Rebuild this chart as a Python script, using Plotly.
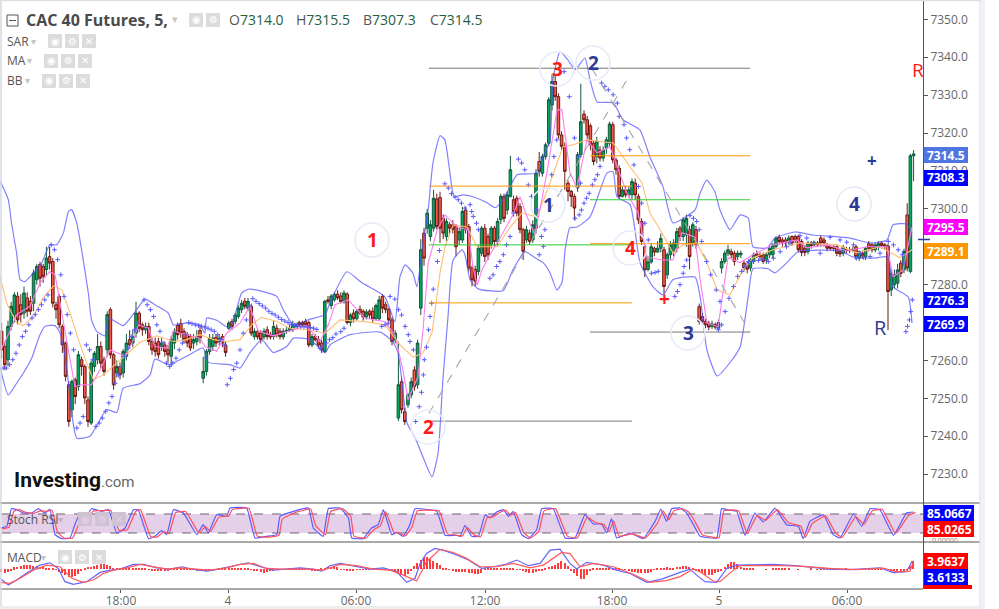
import plotly.graph_objects as go
from plotly.subplots import make_subplots

# candles, 10 per line
opens = [7267.7,7263.7,7260.2,7269.0,7272.1,7276.9,7274.7,7272.5,7276.5,7275.6,
 7275.1,7281.3,7285.3,7284.8,7284.0,7287.4,7286.1,7274.7,7276.9,7269.0,
 7264.6,7253.6,7247.0,7254.9,7253.1,7260.2,7258.4,7249.6,7243.5,7258.4,
 7260.2,7263.7,7260.2,7262.8,7273.4,7261.5,7256.7,7258.4,7256.7,7261.1,
 7265.5,7264.6,7267.2,7272.5,7269.4,7268.1,7269.0,7265.0,7264.6,7265.0,
 7263.7,7264.1,7262.8,7261.1,7264.6,7269.2,7269.7,7267.7,7266.8,7266.3,
 7264.6,7265.0,7267.9,7255.3,7257.1,7262.4,7263.7,7266.1,7265.0,7266.3,
 7264.1,7268.5,7270.3,7270.3,7271.6,7273.4,7275.6,7273.8,7274.3,7266.3,
 7267.7,7267.2,7266.2,7268.1,7266.8,7266.3,7268.5,7267.7,7266.2,7267.7,
 7267.9,7268.1,7269.0,7270.0,7270.0,7270.3,7270.0,7264.1,7266.3,7265.5,
 7264.6,7262.4,7276.0,7274.5,7276.0,7277.5,7277.0,7275.5,7277.5,7270.0,
 7272.5,7271.0,7273.5,7273.0,7271.5,7273.0,7273.0,7271.0,7271.0,7276.9,
 7274.7,7273.4,7270.7,7265.4,7244.8,7254.4,7246.5,7248.3,7250.9,7257.5,
 7253.6,7273.8,7293.6,7294.9,7292.7,7294.9,7302.6,7303.0,7297.5,7292.7,
 7295.8,7295.8,7295.3,7291.8,7291.8,7299.7,7295.3,7284.4,7284.0,7283.5,
 7288.3,7294.9,7292.7,7290.5,7294.9,7291.4,7297.1,7303.3,7299.7,7303.3,
 7302.4,7302.8,7300.6,7294.5,7291.8,7293.6,7291.8,7294.9,7312.5,7309.4,
 7313.8,7317.3,7327.4,7333.6,7329.6,7319.5,7316.5,7306.8,7304.6,7303.3,
 7305.5,7314.3,7325.0,7323.5,7321.9,7317.3,7313.8,7315.5,7313.4,7316.0,
 7317.3,7322.2,7312.9,7310.7,7303.3,7305.0,7303.7,7303.7,7306.8,7303.3,
 7296.7,7290.0,7284.0,7286.0,7289.6,7288.6,7289.6,7289.2,7282.6,7287.9,
 7288.8,7289.6,7294.9,7292.7,7293.1,7294.5,7291.0,7294.5,7274.2,7271.6,
 7270.3,7269.8,7269.0,7269.4,7268.5,7284.4,7286.1,7288.3,7288.7,7288.3,
 7287.4,7287.9,7285.7,7285.2,7284.4,7286.1,7288.1,7287.9,7287.9,7286.5,
 7287.9,7287.9,7290.1,7292.5,7291.8,7291.8,7291.4,7292.7,7292.7,7292.7,
 7291.4,7289.6,7288.7,7291.0,7290.5,7291.0,7292.3,7291.8,7290.5,7290.0,
 7290.0,7290.0,7288.7,7288.3,7289.2,7289.2,7289.0,7290.0,7287.0,7288.3,
 7287.4,7290.8,7290.5,7289.2,7289.9,7291.0,7290.5,7290.2,7278.6,7280.0,
 7280.4,7285.7,7283.9,7298.4,7283.5,7314.0]
closes = [7262.8,7258.9,7269.0,7274.3,7277.3,7270.7,7272.1,7277.8,7273.0,7273.0,
 7283.1,7284.8,7281.7,7282.2,7287.0,7285.7,7275.1,7273.4,7269.4,7264.1,
 7255.8,7243.9,7254.5,7250.5,7261.5,7258.4,7250.1,7243.9,7259.3,7261.9,
 7263.7,7259.3,7257.1,7272.1,7261.5,7253.6,7258.4,7256.2,7262.4,7264.6,
 7264.1,7266.3,7272.5,7268.5,7268.1,7269.0,7265.0,7262.8,7262.4,7261.5,
 7264.6,7262.4,7261.5,7265.5,7267.7,7266.8,7267.2,7265.5,7264.6,7263.3,
 7265.5,7266.3,7265.9,7257.1,7262.4,7265.9,7265.9,7264.6,7265.9,7264.6,
 7262.1,7269.9,7269.0,7272.0,7273.8,7275.1,7274.3,7275.6,7267.2,7267.7,
 7266.2,7265.5,7267.7,7266.3,7266.2,7269.0,7266.8,7266.3,7267.7,7267.9,
 7268.5,7269.4,7269.4,7269.4,7269.4,7269.4,7264.1,7266.3,7265.5,7264.1,
 7262.8,7275.6,7275.6,7277.0,7277.5,7276.5,7275.5,7277.8,7270.0,7272.0,
 7271.0,7273.0,7272.5,7271.5,7272.8,7272.0,7271.0,7274.5,7276.0,7273.8,
 7273.4,7270.7,7265.0,7267.2,7253.6,7247.0,7243.9,7250.9,7254.4,7253.1,
 7264.6,7289.2,7287.0,7298.9,7295.8,7302.8,7295.3,7294.9,7293.6,7296.7,
 7294.9,7294.6,7290.0,7294.0,7299.3,7294.5,7284.4,7281.3,7280.9,7289.6,
 7294.9,7287.4,7287.9,7294.9,7291.4,7296.7,7303.3,7297.5,7303.7,7310.3,
 7299.3,7298.9,7294.5,7288.8,7294.5,7291.4,7295.8,7309.4,7309.9,7313.8,
 7316.9,7328.8,7333.6,7329.6,7319.5,7316.5,7309.9,7304.6,7303.3,7300.2,
 7314.3,7323.0,7323.5,7319.5,7316.9,7312.5,7317.8,7313.4,7315.5,7318.2,
 7322.4,7312.9,7310.3,7303.3,7305.0,7303.7,7305.0,7307.2,7303.7,7297.1,
 7291.4,7283.9,7286.0,7290.0,7288.6,7289.6,7292.2,7279.5,7287.9,7290.5,
 7291.0,7294.0,7292.7,7297.1,7297.5,7287.4,7295.8,7290.5,7270.3,7270.3,
 7269.4,7268.8,7269.6,7268.8,7270.0,7286.1,7288.3,7289.2,7287.9,7286.1,
 7288.3,7288.3,7284.4,7284.1,7286.5,7287.9,7287.6,7287.4,7286.1,7287.9,
 7289.6,7290.5,7292.3,7291.4,7291.0,7291.0,7292.3,7291.0,7291.8,7289.2,
 7288.5,7288.5,7291.0,7290.3,7291.1,7290.5,7291.0,7291.0,7289.6,7289.6,
 7289.6,7288.3,7288.1,7289.9,7289.0,7289.0,7289.3,7287.4,7288.7,7287.6,
 7289.6,7289.6,7289.2,7290.5,7290.8,7290.3,7290.1,7278.2,7283.0,7282.6,
 7283.9,7283.0,7288.8,7284.4,7314.0,7314.5]
highs = [7270.0,7265.0,7270.5,7275.5,7278.0,7278.0,7277.5,7279.5,7278.0,7277.0,
 7284.0,7285.5,7286.0,7285.5,7290.0,7290.0,7287.0,7275.5,7277.5,7269.5,
 7265.0,7254.5,7255.0,7255.5,7262.5,7261.0,7259.0,7250.5,7260.0,7262.5,
 7267.0,7265.0,7261.0,7273.0,7274.0,7262.0,7260.0,7259.5,7263.0,7267.0,
 7268.0,7268.0,7275.5,7273.0,7270.0,7270.0,7270.0,7266.0,7266.0,7266.0,
 7266.0,7265.0,7264.0,7266.5,7268.5,7270.0,7271.0,7268.5,7267.5,7267.0,
 7267.0,7268.0,7269.0,7261.0,7263.0,7267.0,7267.0,7267.0,7267.0,7267.0,
 7265.0,7270.5,7271.0,7272.5,7274.5,7276.0,7276.5,7276.5,7275.0,7268.5,
 7268.5,7268.0,7268.5,7269.0,7267.5,7270.5,7269.5,7268.5,7268.5,7268.8,
 7269.5,7270.5,7270.0,7270.5,7270.5,7271.0,7270.5,7267.0,7267.0,7266.5,
 7265.5,7276.0,7277.0,7277.5,7278.0,7278.5,7278.0,7278.5,7278.0,7272.5,
 7273.5,7273.5,7274.5,7273.5,7273.5,7273.5,7274.0,7275.0,7277.0,7277.5,
 7275.5,7274.0,7271.5,7268.0,7265.0,7255.5,7247.5,7251.5,7255.5,7258.5,
 7265.5,7292.0,7295.0,7300.0,7297.0,7305.0,7304.0,7304.5,7298.5,7297.5,
 7296.5,7297.0,7296.0,7295.0,7300.5,7300.5,7296.0,7285.0,7285.0,7290.5,
 7295.5,7296.0,7293.5,7295.5,7295.5,7297.5,7304.0,7304.0,7304.5,7314.0,
 7303.5,7303.5,7301.5,7295.0,7295.5,7294.5,7297.0,7310.5,7315.0,7314.5,
 7317.5,7329.5,7335.5,7335.5,7330.5,7320.5,7317.5,7307.5,7305.0,7304.0,
 7315.0,7333.0,7326.0,7324.5,7322.5,7318.0,7319.0,7316.5,7316.5,7319.0,
 7323.0,7323.0,7313.5,7311.5,7306.0,7306.0,7306.0,7308.0,7308.0,7304.0,
 7297.5,7291.0,7287.5,7291.0,7290.0,7291.5,7293.5,7290.0,7288.5,7291.5,
 7292.0,7295.0,7295.5,7297.8,7298.5,7295.5,7296.5,7295.5,7275.0,7272.5,
 7271.0,7270.5,7270.5,7270.0,7270.8,7287.0,7289.0,7290.5,7289.5,7289.0,
 7289.0,7289.0,7286.5,7286.0,7287.0,7288.5,7289.0,7288.5,7288.5,7288.5,
 7290.0,7291.0,7292.8,7293.2,7292.5,7292.5,7293.0,7293.0,7293.2,7293.2,
 7292.0,7290.5,7291.5,7291.5,7291.5,7291.5,7293.0,7292.5,7291.0,7290.5,
 7290.5,7290.5,7289.5,7290.5,7290.0,7290.0,7290.0,7290.5,7289.0,7289.0,
 7290.0,7291.5,7291.0,7291.0,7291.5,7291.5,7291.0,7290.8,7284.0,7284.0,
 7285.5,7286.5,7289.5,7301.5,7314.5,7315.5]
lows = [7260.5,7257.5,7258.5,7268.0,7270.0,7269.5,7270.0,7271.0,7271.5,7272.0,
 7273.0,7280.0,7279.5,7280.5,7282.5,7284.0,7274.0,7271.0,7268.5,7262.0,
 7254.5,7242.5,7245.0,7248.5,7252.0,7256.0,7248.5,7242.5,7243.0,7257.0,
 7259.0,7258.0,7256.0,7261.0,7260.5,7252.3,7255.5,7255.0,7255.5,7260.0,
 7263.0,7263.5,7266.0,7267.5,7266.5,7267.0,7264.0,7261.5,7261.0,7260.5,
 7262.5,7261.0,7259.5,7258.5,7263.0,7265.5,7266.0,7264.5,7263.5,7262.5,
 7263.0,7264.0,7264.5,7254.0,7256.0,7261.5,7262.5,7263.5,7264.0,7263.5,
 7261.0,7268.0,7268.0,7269.5,7271.0,7272.5,7273.5,7273.0,7266.5,7265.5,
 7265.5,7264.5,7265.5,7265.5,7265.5,7265.5,7266.0,7265.5,7265.5,7267.0,
 7267.5,7267.5,7268.5,7268.8,7268.8,7268.8,7263.5,7263.5,7265.0,7263.5,
 7262.0,7262.0,7275.0,7273.5,7275.5,7276.0,7275.0,7275.0,7269.5,7269.0,
 7270.0,7270.5,7272.0,7270.5,7270.8,7271.0,7270.0,7270.5,7270.5,7272.5,
 7272.5,7270.0,7264.0,7264.5,7244.0,7246.0,7243.0,7247.5,7250.0,7252.0,
 7252.5,7272.0,7285.0,7293.5,7291.5,7294.0,7294.5,7291.0,7292.0,7291.5,
 7293.5,7293.5,7287.5,7290.5,7291.0,7293.5,7283.5,7279.5,7279.5,7282.5,
 7287.5,7286.0,7286.5,7289.5,7290.0,7290.0,7296.0,7296.5,7298.5,7303.0,
 7298.0,7298.0,7293.5,7286.5,7291.0,7290.5,7291.0,7293.5,7308.5,7308.5,
 7313.0,7316.5,7326.0,7328.5,7318.5,7315.5,7305.0,7302.0,7300.5,7297.0,
 7304.5,7313.5,7322.5,7318.5,7315.5,7311.5,7312.0,7312.5,7312.5,7314.5,
 7316.5,7312.0,7309.0,7302.5,7303.0,7303.0,7303.0,7302.5,7302.5,7296.0,
 7290.5,7282.0,7283.5,7285.5,7287.5,7288.5,7288.5,7277.5,7281.5,7286.5,
 7287.5,7288.5,7291.5,7291.5,7290.0,7284.0,7290.0,7289.5,7269.5,7269.5,
 7268.5,7268.0,7268.3,7268.2,7267.8,7283.0,7285.5,7287.5,7287.0,7285.0,
 7286.5,7287.0,7283.5,7283.0,7283.5,7285.5,7287.0,7286.5,7285.5,7285.5,
 7287.0,7287.0,7289.5,7290.5,7290.0,7290.0,7290.5,7290.2,7291.0,7288.5,
 7287.5,7287.5,7288.0,7289.5,7290.0,7290.0,7290.0,7290.0,7288.8,7289.0,
 7288.8,7287.5,7287.3,7287.5,7288.3,7288.3,7288.5,7286.5,7286.3,7286.8,
 7286.5,7288.8,7288.5,7288.5,7289.0,7289.5,7289.3,7268.0,7277.0,7279.0,
 7279.0,7282.0,7283.0,7283.5,7283.0,7307.3]
assert len(opens) == len(closes) == len(highs) == len(lows)

# bollinger bands
bb_up_x = [0,2.6,3.6,5.2,6.3,7.8,9.9,13,15.6,17.7,19.8,21.4,22.4,24,25.5,27.6,28.6,30.2,32.8,33.9,38.5,42.7,45.3,49,52.6,54.2,58.3,62.5,64,64.6,67.7,71.9,75.5,77.6,80.7,86.5,88.5,91.7,96.9,101.6,
 103.1,108.4,113.1,120.3,123.4,125,126.6,129,130.3,131.9,133.8,135.3,137.5,139,140.6,141.9,144.7,147.8,152.2,154.7,157.2,160,161.6,168.1,169.7,171.9,172.8,175,177.5,179.7,182.8,184.4,186.6,191.6,194.7,200,203.1,207.2,210.3,217.2,218.8,220.9,223.4,225,228.1,231.3,233.8,235.3,239.7,242.2,248.4,254,265.6,271.9,277.2,279.1,283.4,285]
bb_up = [7307.4,7302.4,7296.2,7288.3,7281.3,7280.8,7282.6,7285.7,7290.5,7290.5,7293.6,7299.3,7299.8,7296.2,7289.2,7277.8,7270.7,7267.7,7266.5,7271.2,7269.2,7273.4,7276.2,7274.4,7272.5,7269.4,7269.9,7269.4,7267.2,7271.2,7270.6,7268.5,7277.8,7278.8,7278.5,7276.9,7273.4,7269.4,7270.9,7272.1,
 7275.2,7283.4,7280.5,7276.8,7270.2,7282.1,7285.2,7283.1,7279.4,7289.2,7299.7,7312.1,7319.3,7318.2,7309.5,7303.2,7303.7,7303.2,7301.6,7300.3,7302.4,7306.9,7309,7309.5,7313.7,7318.2,7334,7341.4,7339.3,7336.7,7339.8,7334,7328.2,7328,7323.5,7320.8,7313.7,7305.8,7296.3,7299.7,7304.2,7307.6,7304.5,7299.7,7294.5,7298.4,7297.6,7290,7289.7,7292.3,7293.9,7293.1,7292.3,7291,7291.8,7295.8,7296,7293.7]
bb_lo_x = [0,2.6,5.2,7.3,9.9,12.5,14.1,17.2,18.8,20.8,22.4,24,28.1,33.3,36.5,38.5,43.8,46.9,48.4,52.6,58.3,63.5,65.1,71.9,75,78.1,81.8,85.4,89.6,91.7,96.9,101.6,
 103.1,109.4,118.8,122.8,124.4,125.9,127.2,129.7,131.3,135,136.9,138.4,140,141.6,144.4,145.3,146.9,149.4,157.2,160.3,164,167.2,169.7,171.9,174,175.6,176.6,178.1,180.3,184.4,189.7,191.6,192.8,196.9,200,204.1,207.2,210.3,217.2,218.8,220.9,224.1,228.1,231.3,233.8,235.3,240,242.2,245.9,249.4,262.5,266.6,272.8,277.5,279.1,283.8,285]
bb_lo = [7258.4,7250.9,7254,7256.7,7260.6,7266.8,7269,7269.2,7267.2,7258.4,7246.1,7239.5,7240,7247,7246.3,7252.7,7253.9,7256.2,7260.4,7258.9,7261.1,7263.3,7259.5,7258.9,7258,7262,7265.5,7262.1,7263.7,7265.9,7265.5,7262,
 7264.1,7266.8,7267.5,7264.9,7262,7252.2,7243.5,7239.6,7236.4,7229.3,7235.6,7254.9,7271.5,7286.5,7289.2,7287.9,7281.3,7278.9,7278.4,7283.9,7288.7,7287.1,7285.8,7283.1,7278.6,7280.5,7289.2,7295,7295.2,7297.9,7309.5,7309.8,7303.2,7301.1,7285.8,7279.4,7277.3,7281.3,7282,7276.8,7262.8,7255.9,7259.4,7263.6,7276.8,7284.2,7284.2,7283.1,7285.8,7288.7,7288.9,7287.3,7287,7287.3,7279.4,7276.8,7269.9]

# moving averages
ma_slow_x = [0,2.1,5.2,7.3,10.4,13.5,16.7,19.3,21.9,24.5,27.1,29.2,32.3,36.5,40.1,43.8,49,54.2,58.3,62.5,66.7,70.8,75,79.2,81.8,86.5,90.6,95.8,101.6,
 106.3,114.1,120.3,125,129.1,132.2,135,137.5,139.1,141.6,145.9,149.1,155.3,159.4,163.1,167.8,171.9,175.9,179.1,183.4,191.6,196.9,200.6,203.1,206.3,210.3,213.4,217.8,220.9,224.1,228.1,232.2,235.3,241.6,250,261.6,267.8,275,281.3,285]
ma_slow = [7282.2,7275.1,7269.9,7269.2,7271.6,7276.5,7279.7,7278.7,7272.5,7265.5,7259.3,7254.9,7256.2,7259.3,7262,7264.8,7266.5,7265,7265.5,7266.8,7265.5,7265,7265.5,7269.9,7271.4,7270.3,7268.5,7268.1,7267.2,
 7270.7,7270.2,7269.4,7264.1,7260.9,7262,7267.3,7283.1,7290,7295.8,7295.2,7290,7290,7295.2,7298.9,7297.9,7306.9,7316.4,7316.9,7318.2,7317.4,7311.1,7306.9,7298.9,7294.5,7288.4,7290.5,7291,7285.8,7278.6,7277.3,7283.9,7287.1,7289.2,7291,7290.5,7288.4,7290,7287.1,7289.2]
ma_fast_x = [0.3,3.1,5.2,9.4,12.5,15.6,17.2,19.3,21.4,23.4,25.5,28.6,31.3,34.4,37,39,41.7,43.2,46.4,48.4,52.1,54.2,58.3,62.5,64.1,67.7,70.8,75,78.1,80.7,85.4,90.6,95.8,100,102.6,
 104.7,108.8,114,120.3,123.4,125.9,127.5,130.6,132.2,133.8,136.6,139.1,142.8,146.3,147.8,149.1,150.6,153.1,157.2,160.3,162.5,164.7,167.2,170.9,174.1,175.6,178.1,180.3,183.4,186.6,190.6,192.8,195.9,199.4,202.2,203.1,207.2,210.3,213.1,217.2,218.8,220.9,224.4,227.5,231.3,235.3,241.6,249,252.2,258.4,264.7,270.9,277.2,279.1,282.2,285]
ma_fast = [7262.8,7267.7,7272.1,7274.3,7280.4,7283.5,7282.6,7272.5,7261.9,7253.1,7253.6,7253.6,7257.6,7262.8,7261.9,7261.1,7265.5,7269.4,7268.5,7263.7,7263.3,7267.7,7266.8,7265.9,7263.7,7262.4,7267.2,7269.9,7274.3,7267.7,7266.5,7267.9,7269.2,7265,7269.4,
 7274.7,7276,7271.2,7270.2,7266.7,7257.5,7249.6,7255.7,7268.1,7285.7,7294.4,7298.4,7295.2,7294.5,7284.7,7279.9,7283.9,7287.9,7293.7,7298.4,7303.2,7297.9,7293.1,7309.5,7326.1,7326.1,7309.5,7305.5,7318.2,7314.8,7316.4,7311.1,7304.2,7298.9,7287.3,7287.1,7286.5,7286.5,7293.7,7292.6,7281.3,7269.9,7268.9,7287.1,7285.8,7287.9,7290.5,7291.8,7289.7,7290.5,7288.9,7290,7290,7282.1,7283.9,7295.2]

# parabolic sar dots
sar_x = [1,2,3,4,5,6,7,8,9,10,11,12,13,14,15, 16,17,18,19,20,21,22,23, 24,25,26, 27,28,29,
 30,31,32,33,34,35,36,37,38,39,40,41,42,43, 45,46,47,48,49,50,51,52, 53,54,55,56,57,58,
 59,60,61,62,63,64,65,66,67,68,69,70, 71,72,73,74,75,76,77,78,
 79,80,81,82,83,84,85,86,87,88,89,90,91,92,93,94,95,96,97,98,99, 100,101,102,103,
 104,105,106.5,107.5, 119.3,120.3,121.3, 121.9,123.4,124.5,125.5,126.6,127.6,128.1,129.2,
 129.9,131,131.7,132.3,132.6,133.3,133.9,134.4,134.9,135.4,136.7,137.3,
 139,140.1,141.1,142.2,143.2,144.2,145.3,146.9,147.4,147.9,148.9,149.5,
 153.1,154.1,155.2,156.2,157.3,158.3,159.4,160.4, 162,163,164,165.1,166.1,167.7,169.2,170.3,
 168.5,169.8,172.4,173.1,174, 176.3,177.9,179.5,180.9,181.4,
 179.7,181,181.7,182.5,183.3,184.1,185.1,185.9,186.7,187.5,
 188,189,190.1,191.6,192.9,193.5,195,195.8,196.8,198.1,199.5,200.5,201.5,202.6,
 203.6,204.7,205.7,210.9,211.7,212.5,213.5,213.8,214.6,
 215.6,216.7,217.7,218.5,219.3,220.8,222.1,223.8,225,
 224.5,225.5,226.6,227.8,229.2,230.5,231.8,232.8,233.9,235.4,237,238.5,240.1,241.7,243.8,245.8,246.9,
 250,252.1,254.2,256.3, 259.4,262.5,264.6,266.7,268.8, 267.7,269.8,271.9,275,
 277.6,279.2,280.7,282,282.5, 283.1,283.6,284.2,284.6,285.1]
sar_y = [7258,7258,7258.9,7260.2,7261.9,7264.1,7266.3,7267.7,7269.4,7271.2,7272.1,7273.4,7274.7,7276,7277.3,
 7290.5,7289.2,7286.6,7282.6,7276.9,7272.1,7267.2,7262.8, 7242.2,7243.5,7245.2, 7264.1,7262.8,7260.2,
 7242.6,7243.5,7244.8,7246.6,7248.8,7250.5,7254,7256.2,7258.4,7261.1,7263.3,7266.3,7268.1,7269.9,
 7276,7274.7,7273.4,7271.6,7269.4,7267.7,7264.6,7259.3, 7258.4,7259.3,7260.6,7262.8,7264.6,7266.8,
 7270,7269.7,7269.4,7269.2,7269,7268.8,7268.5,7268.1,7267.7,7266.8,7265.5,7264.1,
 7253.6,7255.3,7257.6,7259.3,7262.8,7267.2,7270.7,7274.3,
 7276.3,7275.6,7275,7274.4,7273.8,7273,7272.4,7272,7271.4,7270.8,7270.4,7270,7269.6,7269.3,7269.1,7269,7268.9,7268.8,7268.7,7268.5,7268.2,
 7263.2,7263.8,7264.6,7265.5,
 7266,7267,7267.6,7268.5, 7269,7269.4,7269.8, 7276.9,7276.2,7273.4,7272,7269,7266.8,7265,7262.8,
 7243.9,7247.8,7251.6,7256.2,7260.2,7263.5,7268.1,7271.6,7275.1,7278.8,7286.1,7289,
 7306.6,7305.5,7304,7303.1,7302.4,7301.5,7300.2,7301.1,7299.3,7298,7296.2,7294.5,
 7281.7,7282.6,7284.8,7286.1,7287.9,7290.5,7292.7,7298.9, 7313.1,7312.1,7310.3,7306.3,7303.3,7299.7,7292.7,7294.5,
 7287.9,7290.1,7309,7313.8,7318.2, 7336.2,7329.6,7318.7,7313.8,7306.8,
 7297.5,7298.4,7299.7,7301.5,7302.8,7304.1,7306.3,7307.7,7309,7311.2,
 7333.2,7332.3,7331.4,7330.1,7327.9,7324.4,7322.2,7318.7,7315.6,7311.6,7305.9,7301.5,7296.2,7291.8,
 7283,7283.2,7283.5,7276.9,7278.2,7280,7283,7284.8,7286.5,
 7298.2,7297.5,7296.7,7294.5,7291.4,7286.1,7282.6,7278.6,7275.6,
 7268.1,7269.4,7272.9,7276.4,7279.5,7282.2,7283.5,7284.8,7286.1,7286.1,7286.4,7286.7,7286.1,7287,7288.7,7290,7291,
 7292.9,7292.3,7291,7288.3, 7292.5,7291.8,7291.2,7290.5,7288.3, 7287,7287.2,7287.4,7288.3,
 7291.4,7290.5,7289.2,7287.9,7285.7, 7267.6,7269,7270.7,7272.9,7276]

# stochastic rsi
stoch_x = [0,2.1,3.6,5.2,7.3,9.9,12,14.1,15.6,17.2,19.3,21.9,23.4,25,26.6,28.6,31.8,33.9,36.5,39.1,41.7,43.2,46.4,48.4,50.5,52.1,54.2,57.3,61.5,63.5,65.1,67.7,70.8,71.9,77.1,79.7,83.3,86.5,87.5,91.7,96.4,97.9,101,102.6,
 106.3,108.9,109.9,113.5,116.1,118.2,119.8,122.4,124,126,128.1,129.7,136.5,139.1,142.7,143.8,145.3,147.4,149.5,151.6,153.1,155.2,157.3,158.9,160.4,163,165.1,167.7,169.3,172.9,176.6,179.7,182.8,185.4,188,189.6,191.1,192.7,196.9,201,204.7,206.5,208.3,209.9,212.5,
 214.6,216.7,218.8,224,225.5,228.1,230.2,232.8,235.9,238.5,242.2,245.8,249.5,251,253.1,257.3,260.4,262.5,266.7,269.3,271.9,275,279.2,283.3,285.4]
stoch_k = [35.7,41,96.8,93.6,83.1,83.1,96.8,83.1,95.7,14.7,2,4.2,46.3,83.1,65.2,96.8,88.4,93.6,20,35.7,93.6,93.6,2,9.4,27.3,14.7,93.6,83.1,14.7,46.3,20,77.8,72.6,98.9,98.9,4.2,9.4,14.7,72.6,88.4,98.9,35.7,9.4,96.8,
 98.9,67.3,4.2,2,35.7,46.3,93.6,14.7,22,9.4,46.3,96.8,88.4,12.6,12.6,9.4,44.2,9.4,9.4,77.8,67.3,86.3,93.6,72.6,88.4,14.7,2,30.5,96.8,96.8,4.2,4.2,77.8,48.4,48.4,20,65.2,4.2,20,2,56.8,95.7,56.8,96.8,98.9,
 83.1,46.3,9.4,4.2,96.8,91.5,88.4,12.6,83.1,54.7,98.9,46.3,41,2,56.8,77.8,14.7,4.2,80,41,96.8,93.6,12.6,83.1,86.3]
stoch_d = [33,38,88,95,85,82,90,88,92,24,4,3,35,75,70,90,91,92,28,30,88,94,8,7,24,18,85,88,20,40,24,70,74,94,98,10,7,13,64,85,96,44,14,88,
 97,73,10,3,30,43,88,22,20,11,40,90,90,18,12,10,38,14,8,70,70,83,92,76,85,20,4,25,90,97,10,4,70,53,47,24,58,10,17,4,50,90,62,90,97,
 86,52,14,5,90,93,89,18,75,60,94,52,42,6,50,74,20,6,72,47,90,95,18,76,85]

# macd
macd_x = [0,2.6,5.2,8.9,12.5,15.6,18.2,20.3,22.9,27.1,31.3,34.4,37.5,41.7,44.8,49,53.1,56.8,59.9,64.6,66.7,72.9,77.6,81.3,85.4,93.8,97.9,100.5,103.1,106.3,
 110.4,115.6,119.8,124,127.1,129.7,131.3,133.3,135.9,138.5,142.7,146.4,150.5,154.2,158.3,161.5,165.1,168.8,171.9,175,178.1,180.2,183.3,188.5,192.7,196.9,202.1,206.8,212.5,
 215.6,217.7,220.3,224,227.1,230.2,241.7,248.4,254.2,259.4,265.6,275,279.2,283.3,284.4,285.1]
macd_line = [-4.4,-7.6,-5.2,-1.3,1.9,3,.3,-6,-7.3,-6,-1.6,-.5,0,2.2,2.2,.6,0,1.1,0,-1,-.5,1.6,3,1.1,-.5,.6,0,-1,1.6,2.7,
 1.6,0,.6,-1.3,-6.3,-4.4,2.7,7.4,9.8,9,6.7,4.3,.3,1.1,2.4,4.3,1.6,2.7,9,9.5,2.7,0,3.2,1.9,-.5,-2.1,-6.3,-4.8,-1.6,
 0,-2.9,-6,-6.3,.3,1.9,2.2,1.6,.6,0,-.3,.6,-1.7,-1.3,1.9,4]
signal_x = [0,3.1,6.3,10.4,14.6,18.8,22.4,26,29.2,32.3,35.4,39.6,43.8,47.9,52.1,56.3,61.5,65.6,70.8,75,79.2,83.3,88.5,96.9,101,104.2,
 106.3,111.5,116.7,121.9,126.1,130.2,133.3,137.5,141.7,145.8,150,155.2,160.4,165.6,169.8,175.5,178.1,181.3,185.4,191.7,197.9,203.1,208.3,212.5,
 216.7,218.8,222.9,225,229.2,231.3,243.8,251,259.4,267.7,276,280.2,284.4,285.2]
signal_line = [-6.3,-6.8,-4.4,-.5,1.9,1.1,-4.4,-6.3,-5.2,-2.1,-.5,.6,2.2,1.1,0,.6,0,-.5,.6,2.2,2.7,.3,0,0,-.5,1.1,
 2.2,1.6,0,-.5,-2.9,-5.7,3.5,9.4,7.9,5.1,1.1,1.1,2.7,.6,1.9,7.9,7.4,1.1,2.7,1.1,-2.5,-6.3,-5.5,-3.6,
 0,-1.3,-5.7,-6,-.5,1.6,1.7,1.3,.3,-.3,.5,-1.3,-1,2.7]
macd_hist = [-1.5,-1.8,-1.5,-1.0, .8,1.2,1.6,1.8,1.9,1.8,1.6,1.5,1.2,1.0, .5,.3,.1,-.3,
 -1.2,-2,-3,-3.6,-3.8,-3.5,-2.5, -.5,.2,1, 1.2,1.6,2,2.2,2.2,2,1.5,
 .6,.4,.3,.3,.2,.2,.2,.2,.2,.2,.1, -.3,-.5,-.7,-1,-1.1,-.9,-.5,-.3,
 .2,.3,.3,.2,.1,-.2,-.4,-.6,-.5, -.4,-.5,-.5,-.3,-.1,.1,.2,.3,.3,
 .4,.5,.5,.4,.3,.2,-.1,-.5,-1, -1.6,-1.7,-1.3,-.9,-.5,-.3,
 -.1,-.2,-.2,.1,.1,.2,.2,.1,-.2,-.3,-.5, -.8,-.6,.3,.7,1,1.2,1.1,.9,
 -.2,-.3,-.5,-.6,-.5,-.4,-.3,-.2,-.1,-.1, .1,.2,.1,-.1,-.3,-.6,-1,-1.5,
 -2.2,-3,-3.3,-2.5,-1, 1.5,3,4.5,5.6,5.9,5,4,3,2, .3,.1,-.1,
 -.8,-1.2,-1.4,-1.6,-1.6,-1.8,-2,-2.5,-2.5,-2, .4,.2,.2,.3,.3,.3,.4,.3,.2,.1,
 -.1,-.4,-.8,-1.2,-1.8,-2,-1.6,-1,-.5,.2, 1,1.5,2,3,3.8,3,1.6,
 -.5,-2,-3.5,-4.5,-4.5,-3,-1, .4,.5,.5,.4,.3,.3,.2,.2,.1,-.1,-.3,
 -.8,-1.2,-1.5,-1.7,-1.8,-1.7,-2,-1.2, -.3,.1,.2,.3, .8,.2,.4,1,1.2, 1.5,1.4,1.2,.5,
 -.5,-1.2,-2,-3,-3,-2.6,-2,-1.5,-.5, 1,2.6,3.5,3.5,2.5, 1,.4,.2,
 .1,.1,0,0,0,-.1,0,.1,.2,.1, .3,.3,.2,0,0,-.1,0,0,0,.1, 0,-.2,-.2,-.3,-.3,-.2,-.3,-.2,0,0,
 .1,0,-.2,-.2,-.2,-.3,-.2,-.2,-.2,-.2, -.2,-.2,-.2,-.1,-.5,-.6,-.6,-.7,-.6,-.3, 1.5,3.9]

tick_vals = [37.8,71.25,111.25,151.6,191.25,224.7,264.7]
tick_text = ["18:00","4","06:00","12:00","18:00","5","06:00"]
price_ticks = [7350,7340,7330,7320,7310,7300,7290,7280,7270,7260,7250,7240,7230]
price_labels = ["7350.0","7340.0","7330.0","7320.0","7310.0","7300.0","","7280.0","","7260.0","7250.0","7240.0","7230.0"]

W, H = 999, 609
AX_X = 923

def px(x):
    return x / W

def py(y):
    return 1 - y / H

bar_x = [i + 0.5 for i in range(len(opens))]

fig = make_subplots(rows=3, cols=1, shared_xaxes=True)
BLUE = "rgba(80,80,255,0.72)"

fig.add_trace(go.Scatter(x=bb_up_x, y=bb_up, mode="lines", line=dict(color=BLUE, width=1.2, shape="spline", smoothing=0.5)), row=1, col=1)
fig.add_trace(go.Scatter(x=bb_lo_x, y=bb_lo, mode="lines", line=dict(color=BLUE, width=1.2, shape="spline", smoothing=0.5)), row=1, col=1)
fig.add_trace(go.Scatter(x=ma_slow_x, y=ma_slow, mode="lines", line=dict(color="#ffbe6e", width=1.1)), row=1, col=1)
fig.add_trace(go.Scatter(x=ma_fast_x, y=ma_fast, mode="lines", line=dict(color="#ff7cf0", width=1.1)), row=1, col=1)
fig.add_trace(go.Candlestick(x=bar_x, open=opens, high=highs, low=lows, close=closes,
    increasing=dict(fillcolor="#0aa561", line=dict(color="#14593c", width=1)),
    decreasing=dict(fillcolor="#f4594c", line=dict(color="#6b1a14", width=1)),
    whiskerwidth=0), row=1, col=1)
fig.add_trace(go.Scatter(x=sar_x, y=sar_y, mode="markers",
    marker=dict(symbol="cross-thin", size=3.4, color="#5a5aff", line=dict(width=1, color="#5a5aff"))), row=1, col=1)

fig.add_trace(go.Scatter(x=stoch_x, y=stoch_k, mode="lines", line=dict(color="#5a5aff", width=1.2, shape="spline", smoothing=0.3)), row=2, col=1)
fig.add_trace(go.Scatter(x=[v + 0.7 for v in stoch_x], y=stoch_d, mode="lines", line=dict(color="#ff4d5e", width=1.2, shape="spline", smoothing=0.3)), row=2, col=1)

fig.add_trace(go.Bar(x=bar_x, y=macd_hist, width=0.42, marker=dict(color="#ff3b3b", line=dict(width=0))), row=3, col=1)
fig.add_trace(go.Scatter(x=macd_x, y=macd_line, mode="lines", line=dict(color="#6464ff", width=1.2)), row=3, col=1)
fig.add_trace(go.Scatter(x=signal_x, y=signal_line, mode="lines", line=dict(color="#ff5a5a", width=1.2)), row=3, col=1)

fig.update_layout(width=W, height=H, margin=dict(l=0, r=0, t=0, b=0), showlegend=False,
    paper_bgcolor="white", plot_bgcolor="white", bargap=0, boxgap=0.1, boxgroupgap=0.1,
    font=dict(family="Open Sans", color="#666666", size=12))

x_range = [0, AX_X / 3.2]
for r in (1, 2, 3):
    fig.update_xaxes(row=r, col=1, range=x_range, domain=[0, AX_X / W], showgrid=False, zeroline=False, automargin=False,
                     showticklabels=False, ticks="", rangeslider=dict(visible=False))
fig.update_xaxes(row=3, col=1, tickmode="array", tickvals=tick_vals, ticktext=tick_text, showticklabels=True,
                 ticks="outside", ticklen=3, ticklabelstandoff=-2, tickcolor="#555",
                 tickfont=dict(size=12, color="#666666", family="Open Sans"))

ax_style = dict(side="right", showgrid=False, zeroline=False, showline=True, linecolor="#555555", linewidth=1, automargin=False)
fig.update_yaxes(row=1, col=1, domain=[py(503), 1], range=[7222.4, 7355.1], tickmode="array", tickvals=price_ticks,
                 ticktext=price_labels, ticks="outside", ticklen=4, tickcolor="#555",
                 tickfont=dict(size=12, color="#666666"), **ax_style)
fig.update_yaxes(row=2, col=1, domain=[py(542), py(503)], range=[-8.5, 114.8], showticklabels=False, **ax_style)
fig.update_yaxes(row=3, col=1, domain=[py(589), py(542)], range=[-9.5, 12.9], showticklabels=False, **ax_style)

shapes = []
# stoch band
shapes.append(dict(type="rect", xref="paper", yref="y2", x0=0.002, x1=px(AX_X), y0=20, y1=80, fillcolor="#e5d0e9", line=dict(width=0), layer="below"))
for lvl in (20, 80):
    shapes.append(dict(type="line", xref="paper", yref="y2", x0=0.002, x1=px(AX_X), y0=lvl, y1=lvl, line=dict(color="#6f5f70", width=1, dash="dash"), layer="below"))

# frame lines
for y0, x1 in ((503, 980), (542, 980), (589, AX_X)):
    shapes.append(dict(type="line", xref="paper", yref="paper", x0=0, x1=px(x1), y0=py(y0), y1=py(y0), line=dict(color="#555555", width=1.2)))
shapes.append(dict(type="line", xref="paper", yref="paper", x0=px(1), x1=px(1), y0=py(606), y1=1, line=dict(color="#d5dae2", width=1.5)))
shapes.append(dict(type="line", xref="paper", yref="paper", x0=0, x1=px(985), y0=py(0.5), y1=py(0.5), line=dict(color="#dcdfe4", width=1.5)))
shapes.append(dict(type="rect", xref="paper", yref="paper", x0=0, x1=px(985), y0=py(609), y1=py(606), fillcolor="#eeeeee", line=dict(width=0)))
shapes.append(dict(type="line", xref="paper", yref="paper", x0=px(980), x1=px(980), y0=py(606), y1=1, line=dict(color="#dcdfe4", width=1.2)))
shapes.append(dict(type="rect", xref="paper", yref="paper", x0=px(981), x1=px(985), y0=py(609), y1=1, fillcolor="#eff1f6", line=dict(width=0)))
# crosshair stub at the axis
shapes.append(dict(type="line", xref="paper", yref="paper", x0=px(918), x1=px(930), y0=py(239.5), y1=py(239.5), line=dict(color="#2e3a94", width=1.5)))

# wave level lines, drawn on the price scale
levels = [(134, 234.4, 7337.1, "#777777"), (134, 197.5, 7306.0, "#ff9800"), (134, 197.5, 7290.5, "#2ecc2e"),
          (134, 197.5, 7275.2, "#ff9800"), (134, 197.5, 7244.0, "#777777"), (184.4, 234.4, 7314.0, "#ff9800"),
          (184.4, 234.4, 7302.4, "#2ecc2e"), (184.4, 234.4, 7290.8, "#ff9800"), (184.4, 234.4, 7267.5, "#777777")]
for x0, x1, lvl, col in levels:
    shapes.append(dict(type="line", xref="x", yref="y", x0=x0, x1=x1, y0=lvl, y1=lvl, line=dict(color=col, width=1)))
shapes.append(dict(type="line", xref="x", yref="y", x0=134, x1=196.6, y0=7246, y1=7335, line=dict(color="#a5a5a5", width=1.1, dash="dash")))
shapes.append(dict(type="line", xref="x", yref="y", x0=185, x1=234.4, y0=7337, y1=7267.5, line=dict(color="#a5a5a5", width=1.1, dash="dash")))

# wave circles
for cx, cy in [(372, 240), (428, 427), (557, 69), (630, 248), (548, 205), (593, 63), (688, 333), (854, 204)]:
    shapes.append(dict(type="circle", xref="paper", yref="paper", x0=px(cx - 17), x1=px(cx + 17), y0=py(cy + 17), y1=py(cy - 17),
                       line=dict(color="#e6ebf8", width=1.6)))

annos = []

def text(x, y, s, size=12, color="#555555", family="Open Sans", anchor="left", bg=None, bold=False):
    if bold:
        s = "<b>" + s + "</b>"
    annos.append(dict(xref="paper", yref="paper", x=px(x), y=py(y), text=s, showarrow=False, xanchor=anchor, yanchor="middle",
                      font=dict(size=size, color=color, family=family), bgcolor=bg, borderpad=0))

def icon_box(x, y, glyph):
    shapes.append(dict(type="rect", xref="paper", yref="paper", x0=px(x), x1=px(x + 14), y0=py(y + 7), y1=py(y - 7),
                       fillcolor="#dcdcdc", line=dict(width=0)))
    text(x + 7, y, glyph, size=10, color="white", family="DejaVu Sans", anchor="center")

# header row
shapes.append(dict(type="rect", xref="paper", yref="paper", x0=px(7), x1=px(18), y0=py(26), y1=py(15), line=dict(color="#555555", width=1)))
shapes.append(dict(type="line", xref="paper", yref="paper", x0=px(9), x1=px(16), y0=py(20.5), y1=py(20.5), line=dict(color="#555555", width=1)))
text(25, 20, "CAC 40 Futures, 5,", size=16, color="#4a4a4a", bold=True)
text(171, 20, "▾", size=11, color="#c4c4c4", family="DejaVu Sans")
icon_box(189, 20, "◉")
icon_box(206, 20, "⚙")
GRN = "#24613f"
for xpos, letter, val in ((228, "O", "7314.0"), (295, "H", "7315.5"), (362, "B", "7307.3"), (429, "C", "7314.5")):
    text(xpos, 20, letter + "<span style='color:%s'>%s</span>" % (GRN, val), size=14, color="#555555")

# indicator rows
for name, y, caret, boxes in (("SAR", 41, 30, (48, 65, 82)), ("MA", 61, 26, (44, 61, 78)), ("BB", 81, 24, (42, 59, 76)),
                              ("MACD", 557, 40, (58, 75, 92))):
    text(6, y, name, size=12, color="#555555")
    text(caret, y, "▾", size=10, color="#c4c4c4", family="DejaVu Sans")
    for b, g in zip(boxes, ("◉", "⚙", "✕")):
        icon_box(b, y, g)
text(6, 519, "Stoch RSI", size=12, color="#555555")
text(57, 519, "▾", size=10, color="#c4a9c9", family="DejaVu Sans")
for b, g in zip((78, 95, 112), ("◉", "⚙", "✕")):
    shapes.append(dict(type="rect", xref="paper", yref="paper", x0=px(b), x1=px(b + 14), y0=py(526), y1=py(512), fillcolor="#cfc2d2", line=dict(width=0)))
    text(b + 7, 519, g, size=10, color="#e5d0e9", family="DejaVu Sans", anchor="center")

# wave labels
for lab, x, y, col in (("1", 372, 240, "#ff1a1a"), ("2", 428, 427, "#ff1a1a"), ("3", 557, 69, "#ff1a1a"), ("4", 630, 248, "#ff1a1a"),
                       ("1", 548, 205, "#2e3a94"), ("2", 593, 63, "#2e3a94"), ("3", 688, 333, "#2e3a94"), ("4", 854, 204, "#2e3a94")):
    text(x, y, lab, size=19, color=col, family="Open Sans", anchor="center", bold=True)
text(664, 299, "+", size=19, color="#ff1a1a", anchor="center", bold=True)
text(872, 160, "+", size=17, color="#2e3a94", anchor="center", bold=True)
text(918, 70, "R", size=19, color="#ff1a1a", anchor="center")
text(880, 327, "R", size=20, color="#2e3a94", anchor="center")

# logo
text(13, 480, "<b>Investing</b><span style='color:#666666;font-size:15px'>.com</span>", size=21, color="#111111", family="Roboto")

# value tags on the axis
for val, y, col in (("7314.5", 155, "#4f74e3"), ("7308.3", 178, "#0000ff"), ("7295.5", 227, "#ff00ff"),
                    ("7289.1", 251, "#ff9800"), ("7276.3", 300, "#0000ff"), ("7269.9", 324, "#0000ff")):
    shapes.append(dict(type="rect", xref="paper", yref="paper", x0=px(924), x1=px(968), y0=py(y + 8), y1=py(y - 8), fillcolor=col, line=dict(width=0)))
    text(946, y, val, size=12, color="white", anchor="center", bold=True)
text(931, 540.5, "0.00000", size=7, color="#888888")
for val, y, col in (("85.0667", 513, "#0000ff"), ("85.0265", 529, "#ff0000"), ("3.9637", 561, "#ff0000"), ("3.6133", 577, "#0000ff")):
    x1 = 974 if val.startswith("85") else 968
    shapes.append(dict(type="rect", xref="paper", yref="paper", x0=px(924), x1=px(x1), y0=py(y + 8), y1=py(y - 8), fillcolor=col, line=dict(width=0)))
    text((924 + x1) / 2, y, val, size=12, color="white", anchor="center", bold=True)
shapes.append(dict(type="rect", xref="paper", yref="paper", x0=px(924), x1=px(972), y0=py(589), y1=py(585), fillcolor="#ff0000", line=dict(width=0)))

fig.update_layout(shapes=shapes, annotations=annos)
fig.write_html("out.html", config=dict(displayModeBar=False), post_script="document.body.style.margin='0';")
